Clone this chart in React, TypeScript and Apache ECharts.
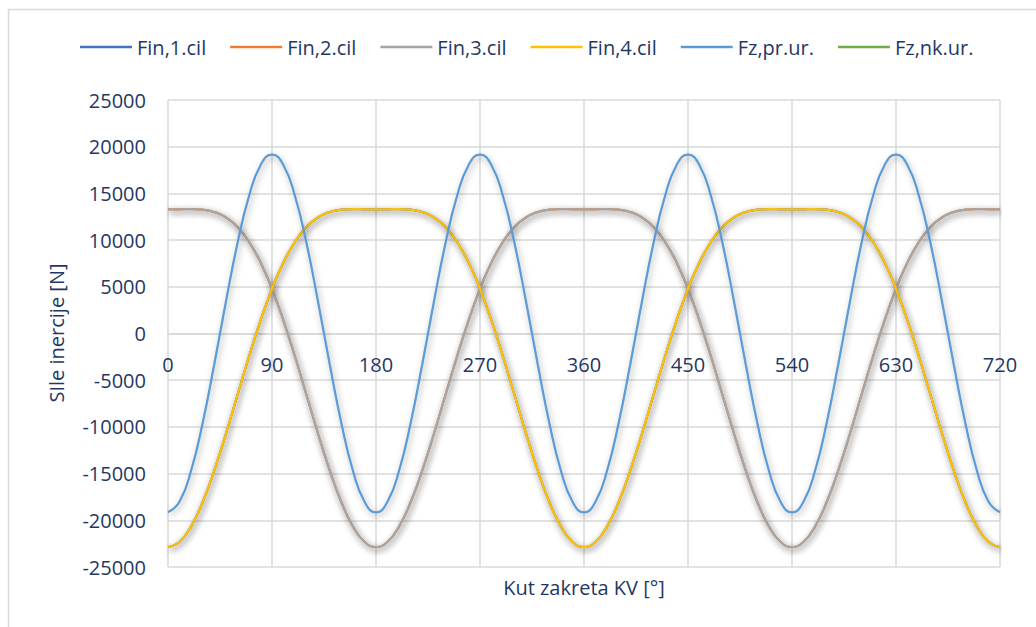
import React, { useEffect, useRef } from "react";
import * as echarts from "echarts";

const angles = [0, 10, 20, 30, 40, 50, 60, 70, 80, 90, 100, 110, 120, 130, 140, 150, 160, 170, 180, 190, 200, 210, 220, 230, 240, 250, 260, 270, 280, 290, 300, 310, 320, 330, 340, 350, 360, 370, 380, 390, 400, 410, 420, 430, 440, 450, 460, 470, 480, 490, 500, 510, 520, 530, 540, 550, 560, 570, 580, 590, 600, 610, 620, 630, 640, 650, 660, 670, 680, 690, 700, 710, 720];

const fin1 = [-22859, -22296, -20649, -18045, -14675, -10785, -6642, -2514, 1360, 4787, 7636, 9848, 11430, 12447, 13013, 13257, 13315, 13300, 13285, 13300, 13315, 13257, 13013, 12447, 11430, 9848, 7636, 4787, 1360, -2514, -6642, -10785, -14675, -18045, -20649, -22296, -22859,
  -22296, -20649, -18045, -14675, -10785, -6642, -2514, 1360, 4787, 7636, 9848, 11430, 12447, 13013, 13257, 13315, 13300, 13285, 13300, 13315, 13257, 13013, 12447, 11430, 9848, 7636, 4787, 1360, -2514, -6642, -10785, -14675, -18045, -20649, -22296, -22859];
const fin2 = [13285, 13300, 13315, 13257, 13013, 12447, 11430, 9848, 7636, 4787, 1360, -2514, -6642, -10785, -14675, -18045, -20649, -22296, -22859, -22296, -20649, -18045, -14675, -10785, -6642, -2514, 1360, 4787, 7636, 9848, 11430, 12447, 13013, 13257, 13315, 13300, 13285,
  13300, 13315, 13257, 13013, 12447, 11430, 9848, 7636, 4787, 1360, -2514, -6642, -10785, -14675, -18045, -20649, -22296, -22859, -22296, -20649, -18045, -14675, -10785, -6642, -2514, 1360, 4787, 7636, 9848, 11430, 12447, 13013, 13257, 13315, 13300, 13285];
const fin3 = [13285, 13300, 13315, 13257, 13013, 12447, 11430, 9848, 7636, 4787, 1360, -2514, -6642, -10785, -14675, -18045, -20649, -22296, -22859, -22296, -20649, -18045, -14675, -10785, -6642, -2514, 1360, 4787, 7636, 9848, 11430, 12447, 13013, 13257, 13315, 13300, 13285,
  13300, 13315, 13257, 13013, 12447, 11430, 9848, 7636, 4787, 1360, -2514, -6642, -10785, -14675, -18045, -20649, -22296, -22859, -22296, -20649, -18045, -14675, -10785, -6642, -2514, 1360, 4787, 7636, 9848, 11430, 12447, 13013, 13257, 13315, 13300, 13285];
const fin4 = [-22859, -22296, -20649, -18045, -14675, -10785, -6642, -2514, 1360, 4787, 7636, 9848, 11430, 12447, 13013, 13257, 13315, 13300, 13285, 13300, 13315, 13257, 13013, 12447, 11430, 9848, 7636, 4787, 1360, -2514, -6642, -10785, -14675, -18045, -20649, -22296, -22859,
  -22296, -20649, -18045, -14675, -10785, -6642, -2514, 1360, 4787, 7636, 9848, 11430, 12447, 13013, 13257, 13315, 13300, 13285, 13300, 13315, 13257, 13013, 12447, 11430, 9848, 7636, 4787, 1360, -2514, -6642, -10785, -14675, -18045, -20649, -22296, -22859];
const fzPr = [-19150, -17995, -14670, -9575, -3325, 3325, 9575, 14670, 17995, 19150, 17995, 14670, 9575, 3325, -3325, -9575, -14670, -17995, -19150,
  -17995, -14670, -9575, -3325, 3325, 9575, 14670, 17995, 19150, 17995, 14670, 9575, 3325, -3325, -9575, -14670, -17995, -19150,
  -17995, -14670, -9575, -3325, 3325, 9575, 14670, 17995, 19150, 17995, 14670, 9575, 3325, -3325, -9575, -14670, -17995, -19150,
  -17995, -14670, -9575, -3325, 3325, 9575, 14670, 17995, 19150, 17995, 14670, 9575, 3325, -3325, -9575, -14670, -17995, -19150];
const fzNk = [0, 0, 0, 0, 0, 0, 0, 0, 0, 0, 0, 0, 0, 0, 0, 0, 0, 0, 0, 0, 0, 0, 0, 0, 0, 0, 0, 0, 0, 0, 0, 0, 0, 0, 0, 0, 0,
  0, 0, 0, 0, 0, 0, 0, 0, 0, 0, 0, 0, 0, 0, 0, 0, 0, 0, 0, 0, 0, 0, 0, 0, 0, 0, 0, 0, 0, 0, 0, 0, 0, 0, 0, 0];

const seriesNames = ["Fin,1.cil", "Fin,2.cil", "Fin,3.cil", "Fin,4.cil", "Fz,pr.ur.", "Fz,nk.ur."];
const seriesValues = [fin1, fin2, fin3, fin4, fzPr, fzNk];
const seriesColors = ["#4472C4", "#ED7D31", "#A5A5A5", "#FFC000", "#5B9BD5", "#70AD47"];

const xTitle = "Kut zakreta KV [°]";
const yTitle = "SIle inercije [N]";

const FONT = "'Open Sans', 'Noto Sans', sans-serif";
const TEXT = "#1F3864";

const GRID_TOP = 100;
const GRID_BOTTOM = 60;
const CHART_H = 627;

export default function App() {
  const ref = useRef<HTMLDivElement>(null);
  useEffect(() => {
    if (!ref.current) return;
    const chart = echarts.init(ref.current, null, { renderer: "svg" });
    const plotH = CHART_H - GRID_TOP - GRID_BOTTOM;
    chart.setOption({
      animation: false,
      backgroundColor: "#ffffff",
      textStyle: { fontFamily: FONT },
      legend: {
        top: 32,
        left: 75,
        icon: "rect",
        itemWidth: 52,
        itemHeight: 2.5,
        itemGap: 24,
        textStyle: { color: TEXT, fontSize: 20, fontFamily: FONT },
        data: seriesNames,
      },
      grid: { left: 168, right: 36, top: GRID_TOP, bottom: GRID_BOTTOM },
      xAxis: [
        {
          type: "value",
          min: 0,
          max: 720,
          interval: 90,
          position: "bottom",
          axisLine: { show: false, onZero: false },
          axisTick: { show: false },
          axisLabel: { show: false },
          splitLine: { show: true, lineStyle: { color: "#D9D9D9", width: 1.5 } },
        },
        {
          type: "value",
          min: 0,
          max: 720,
          interval: 90,
          position: "bottom",
          offset: -plotH / 2,
          axisLine: { show: true, onZero: false, lineStyle: { color: "#D9D9D9", width: 1.5 } },
          axisTick: { show: false },
          axisLabel: { color: TEXT, fontSize: 20, fontFamily: FONT, margin: 21 },
          splitLine: { show: false },
        },
      ],
      yAxis: {
        type: "value",
        min: -25000,
        max: 25000,
        interval: 5000,
        axisLine: { show: false, onZero: false },
        axisTick: { show: false },
        axisLabel: {
          color: TEXT,
          fontSize: 20,
          fontFamily: FONT,
          margin: 22,
          formatter: (v: number) => String(v),
        },
        splitLine: { show: true, lineStyle: { color: "#D9D9D9", width: 1.5 } },
      },
      graphic: [
        {
          type: "rect",
          shape: { x: 8.5, y: 9.5, width: 1100, height: 700 },
          style: { fill: "none", stroke: "#D9D9D9", lineWidth: 1.5 },
          silent: true,
        },
        {
          type: "text",
          x: 56,
          y: 333,
          rotation: Math.PI / 2,
          style: { text: yTitle, fill: TEXT, font: `20px ${FONT}`, align: "center", verticalAlign: "middle" },
        },
        {
          type: "text",
          x: 584,
          y: 587,
          style: { text: xTitle, fill: TEXT, font: `20px ${FONT}`, align: "center", verticalAlign: "middle" },
        },
      ],
      series: seriesNames.map((name, i) => ({
        name,
        type: "line",
        symbol: "none",
        smooth: true,
        xAxisIndex: 0,
        data: angles.map((a, j) => [a, seriesValues[i][j]]),
        itemStyle: { color: seriesColors[i] },
        lineStyle: {
          color: seriesColors[i],
          width: 2.25,
          shadowColor: "rgba(0,0,0,0.35)",
          shadowBlur: 6,
          shadowOffsetX: 1.5,
          shadowOffsetY: 2.5,
        },
        z: 2 + i,
      })),
    });
    return () => chart.dispose();
  }, []);
  return <div ref={ref} style={{ position: "fixed", left: 0, top: 0, width: 1036, height: 627 }} />;
}
